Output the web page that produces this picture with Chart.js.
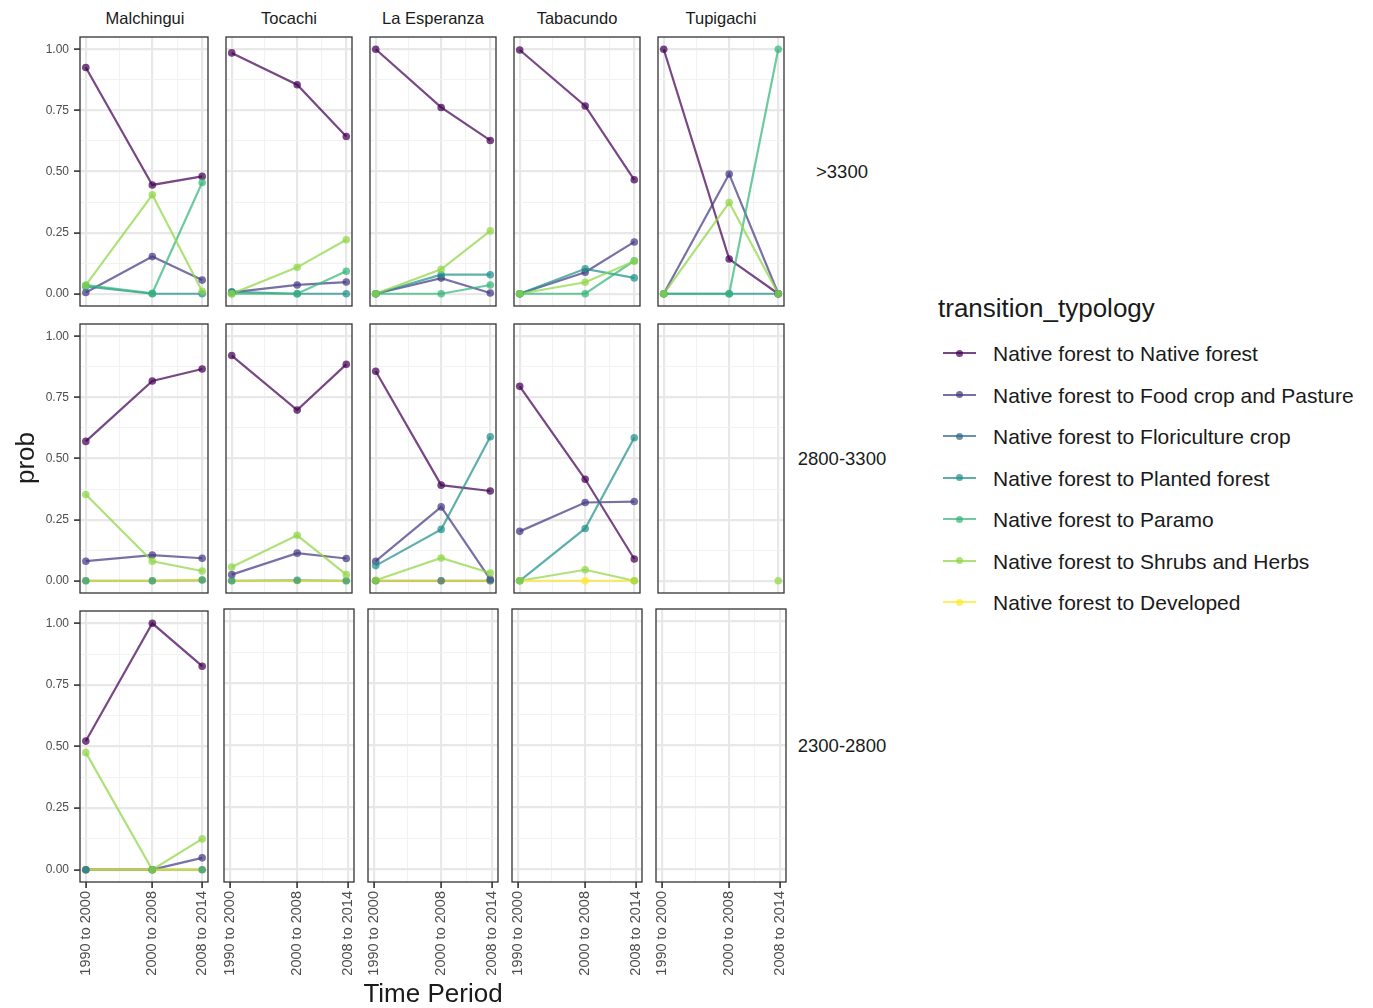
<!DOCTYPE html>
<html>
<head>
<meta charset="utf-8">
<script src="https://cdn.jsdelivr.net/npm/chart.js@4.4.1/dist/chart.umd.min.js"></script>
<style>
  body { margin: 0; background: #fff; font-family: "Liberation Sans", Arial, sans-serif; }
  #stage { position: relative; width: 1373px; height: 1008px; overflow: hidden; }
  .panel { position: absolute; }
  .lbl { position: absolute; white-space: nowrap; color: #1a1a1a; line-height: 1; }
  .key { position: absolute; width: 33px; height: 8px; }
  .key .ln { position: absolute; left: 0; right: 0; top: 3px; height: 2px; }
  .key .dt { position: absolute; left: 13px; top: 0.5px; width: 7px; height: 7px; border-radius: 50%; }
</style>
</head>
<body>
<div id="stage"></div>
<script>
const sites = ['Malchingui', 'Tocachi', 'La Esperanza', 'Tabacundo', 'Tupigachi'];
const zones = ['>3300', '2800-3300', '2300-2800'];
const periodYears = [2000, 2008, 2014];
const periodLabels = ['1990 to 2000', '2000 to 2008', '2008 to 2014'];
const typologies = [
  'Native forest to Native forest',
  'Native forest to Food crop and Pasture',
  'Native forest to Floriculture crop',
  'Native forest to Planted forest',
  'Native forest to Paramo',
  'Native forest to Shrubs and Herbs',
  'Native forest to Developed'
];
const typologyColors = ['#440154', '#443A83', '#31688E', '#21908C', '#35B779', '#8FD744', '#FDE725'];

// values per zone (row) and site (column), one value per period
const nativeForest = [
  [[0.925, 0.445, 0.48], [0.985, 0.855, 0.643], [1.0, 0.762, 0.627], [0.997, 0.768, 0.466], [1.0, 0.142, 0.0]],
  [[0.57, 0.817, 0.866], [0.921, 0.698, 0.885], [0.857, 0.391, 0.367], [0.795, 0.415, 0.089], null],
  [[0.522, 1.0, 0.826], null, null, null, null]
];
const foodCrop = [
  [[0.005, 0.152, 0.056], [0.006, 0.036, 0.048], [0.0, 0.064, 0.003], [0.0, 0.088, 0.212], [0.0, 0.49, 0.0]],
  [[0.08, 0.105, 0.092], [0.025, 0.113, 0.091], [0.08, 0.302, 0.006], [0.202, 0.32, 0.324], null],
  [[0.0, 0.0, 0.048], null, null, null, null]
];
const floriculture = [
  [null, null, null, null, null],
  [null, null, [0.0, 0.0, 0.0], null, null],
  [null, null, null, null, null]
];
const plantedForest = [
  [[0.03, 0.0, 0.0], [0.008, 0.0, 0.0], [0.0, 0.078, 0.078], [0.0, 0.102, 0.065], [0.0, 0.0, 0.0]],
  [[0.0, 0.0, 0.003], [0.0, 0.002, 0.0], [0.062, 0.21, 0.589], [0.0, 0.214, 0.585], null],
  [[0.0, 0.0, 0.0], null, null, null, null]
];
const paramo = [
  [[0.035, 0.002, 0.455], [0.0, 0.0, 0.092], [0.0, 0.0, 0.036], [0.0, 0.0, 0.135], [0.0, 0.0, 1.0]],
  [null, null, null, null, null],
  [null, null, null, null, null]
];
const shrubs = [
  [[0.035, 0.405, 0.01], [0.0, 0.108, 0.221], [0.0, 0.1, 0.257], [0.0, 0.047, 0.133], [0.0, 0.373, 0.0]],
  [[0.353, 0.08, 0.04], [0.056, 0.186, 0.025], [0.002, 0.093, 0.032], [0.0, 0.045, 0.0], [null, null, 0.0]],
  [[0.475, 0.0, 0.125], null, null, null, null]
];
const developed = [
  [null, null, null, null, null],
  [[0.0, 0.0, 0.004], [0.0, 0.0, 0.0], [0.0, 0.0, 0.0], [0.0, 0.0, 0.0], null],
  [[0.0, 0.0, 0.0], null, null, null, null]
];
const seriesByTypology = [nativeForest, foodCrop, floriculture, plantedForest, paramo, shrubs, developed];

const xGrid = [2000, 2004, 2008, 2011, 2014];
const yGrid = [0, 0.125, 0.25, 0.375, 0.5, 0.625, 0.75, 0.875, 1];
const yMajor = [0, 0.25, 0.5, 0.75, 1];

const FONT = '"Liberation Sans", Arial, sans-serif';
const stage = document.getElementById('stage');
const panelLeft = [80, 224, 368, 512, 656];
const panelTop = [35, 322, 609];
const PW = 130, PH = 273, PAD = 2, YAXIS_W = 60, XAXIS_H = 100;

function alpha(hex, a) {
  const n = parseInt(hex.slice(1), 16);
  return `rgba(${n >> 16},${(n >> 8) & 255},${n & 255},${a})`;
}

function noOverflow(s) {
  s.paddingLeft = 0; s.paddingRight = 0; s.paddingTop = 0; s.paddingBottom = 0;
}

const panelBorder = {
  id: 'panelBorder',
  afterDraw(chart) {
    const { ctx, chartArea: a } = chart;
    ctx.save();
    ctx.strokeStyle = '#333333';
    ctx.lineWidth = 1.3;
    ctx.strokeRect(a.left, a.top, a.right - a.left, a.bottom - a.top);
    ctx.restore();
  }
};

function addText(text, x, y, size, extra) {
  const d = document.createElement('div');
  d.className = 'lbl';
  d.textContent = text;
  d.style.left = x + 'px';
  d.style.top = y + 'px';
  d.style.fontSize = size + 'px';
  d.style.transform = extra || 'translate(-50%, -50%)';
  stage.appendChild(d);
  return d;
}

zones.forEach((zone, r) => {
  sites.forEach((site, c) => {
    const isLeft = c === 0;
    const isBottom = r === zones.length - 1;
    const box = document.createElement('div');
    box.className = 'panel';
    const w = PW + 2 * PAD + (isLeft ? YAXIS_W : 0);
    const h = PH + 2 * PAD + (isBottom ? XAXIS_H : 0);
    box.style.left = (panelLeft[c] - PAD - (isLeft ? YAXIS_W : 0)) + 'px';
    box.style.top = (panelTop[r] - PAD) + 'px';
    box.style.width = w + 'px';
    box.style.height = h + 'px';
    const canvas = document.createElement('canvas');
    box.appendChild(canvas);
    stage.appendChild(box);

    const datasets = [];
    seriesByTypology.forEach((series, i) => {
      const vals = series[r][c];
      if (!vals) return;
      const data = periodYears.map((x, k) => ({ x, y: vals[k] }));
      const col = alpha(typologyColors[i], 0.72);
      datasets.push({
        label: typologies[i], data, borderColor: col, borderWidth: 2.2,
        pointRadius: 0, spanGaps: false, order: 200 - i
      });
      datasets.push({
        label: typologies[i], data, showLine: false, pointRadius: 3.8,
        pointBackgroundColor: col, pointBorderWidth: 0,
        order: i === 6 ? 150 : 100 - i
      });
    });

    const isMajorX = v => periodYears.includes(v);
    const isMajorY = v => yMajor.some(m => Math.abs(m - v) < 1e-9);

    new Chart(canvas, {
      type: 'line',
      data: { datasets },
      options: {
        responsive: true,
        maintainAspectRatio: false,
        animation: false,
        events: [],
        devicePixelRatio: 1,
        layout: { padding: PAD },
        plugins: { legend: { display: false }, tooltip: { enabled: false } },
        scales: {
          x: {
            type: 'linear', min: 1999.3, max: 2014.7,
            afterBuildTicks: s => { s.ticks = xGrid.map(v => ({ value: v })); },
            afterFit: s => { s.height = isBottom ? XAXIS_H : 0; noOverflow(s); },
            border: { display: false },
            grid: {
              color: ctx => isMajorX(ctx.tick.value) ? '#E8E8E8' : '#F2F2F2',
              lineWidth: ctx => isMajorX(ctx.tick.value) ? 2.2 : 1.1,
              drawTicks: isBottom, tickLength: 6, tickWidth: 1.6,
              tickColor: ctx => isMajorX(ctx.tick.value) ? '#333333' : 'rgba(0,0,0,0)'
            },
            ticks: {
              display: isBottom, autoSkip: false, minRotation: 90, maxRotation: 90,
              padding: 3, color: '#4D4D4D', font: { size: 14.5, family: FONT },
              callback: v => { const k = periodYears.indexOf(v); return k >= 0 ? periodLabels[k] : ''; }
            }
          },
          y: {
            type: 'linear', min: -0.05, max: 1.05,
            afterBuildTicks: s => { s.ticks = yGrid.map(v => ({ value: v })); },
            afterFit: s => { s.width = isLeft ? YAXIS_W : 0; noOverflow(s); },
            border: { display: false },
            grid: {
              color: ctx => isMajorY(ctx.tick.value) ? '#E8E8E8' : '#F2F2F2',
              lineWidth: ctx => isMajorY(ctx.tick.value) ? 2.2 : 1.1,
              drawTicks: isLeft, tickLength: 6, tickWidth: 1.6,
              tickColor: ctx => isMajorY(ctx.tick.value) ? '#333333' : 'rgba(0,0,0,0)'
            },
            ticks: {
              display: isLeft, padding: 5, color: '#4D4D4D', font: { size: 12, family: FONT },
              callback: v => isMajorY(v) ? v.toFixed(2) : ''
            }
          }
        }
      },
      plugins: [panelBorder]
    });

    if (r === 0) addText(site, panelLeft[c] + PW / 2, 18, 16.5);
  });
  addText(zone, 842, panelTop[r] + PH / 2, 18.5);
});

// axis titles
addText('prob', 25, 458, 26, 'translate(-50%, -50%) rotate(-90deg)');
addText('Time Period', 433, 993, 26);

// legend
addText('transition_typology', 938, 308, 26, 'translate(0, -50%)');
typologies.forEach((name, i) => {
  const y = 353 + i * 41.5;
  const key = document.createElement('div');
  key.className = 'key';
  key.style.left = '943px';
  key.style.top = (y - 4) + 'px';
  const col = alpha(typologyColors[i], 0.72);
  key.innerHTML = `<div class="ln" style="background:${col}"></div><div class="dt" style="background:${col}"></div>`;
  stage.appendChild(key);
  addText(name, 993, y, 21, 'translate(0, -50%)');
});
</script>
</body>
</html>
